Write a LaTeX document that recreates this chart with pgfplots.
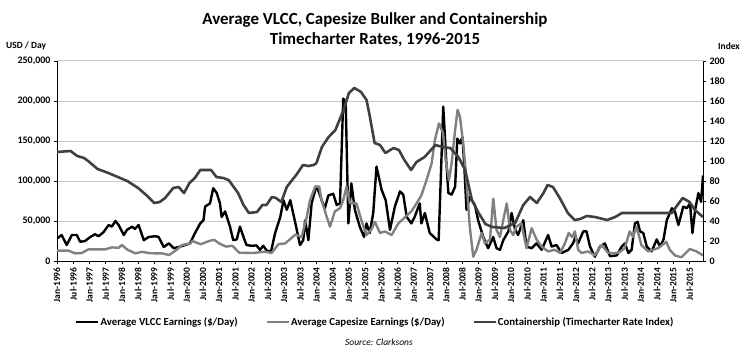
\documentclass[border=0pt]{standalone}
\usepackage{fontspec}
\setmainfont{Carlito}
\usepackage{pgfplots}
\pgfplotsset{compat=1.18}
\definecolor{cape}{HTML}{808080}
\definecolor{cont}{HTML}{404040}
\definecolor{gridc}{HTML}{C8C8C8}
\begin{document}
\begin{tikzpicture}[font=\bfseries]
\path[use as bounding box] (-57bp,-89bp) rectangle (689bp,261bp);
\pgfplotsset{every axis/.append style={scale only axis, width=646bp, height=200bp, xmin=0, xmax=239,
  tick align=outside, major tick length=3bp,
  axis line style={black, line width=0.8bp},
  tick style={black, line width=0.6bp},
  /pgf/number format/assume math mode=true,
  tick label style={font=\bfseries\fontsize{10}{12}\selectfont}}}
\begin{axis}[
  axis y line*=left, axis x line*=bottom,
  ymin=0, ymax=250000, ytick={0,50000,100000,150000,200000,250000},
  scaled y ticks=false,
  /pgf/number format/fixed, /pgf/number format/1000 sep={,},
  ymajorgrids, grid style={gridc, line width=1bp},
  xtick={0,6,...,234},
  xticklabels={Jan-1996,Jul-1996,Jan-1997,Jul-1997,Jan-1998,Jul-1998,Jan-1999,Jul-1999,Jan-2000,Jul-2000,Jan-2001,Jul-2001,Jan-2002,Jul-2002,Jan-2003,Jul-2003,Jan-2004,Jul-2004,Jan-2005,Jul-2005,Jan-2006,Jul-2006,Jan-2007,Jul-2007,Jan-2008,Jul-2008,Jan-2009,Jul-2009,Jan-2010,Jul-2010,Jan-2011,Jul-2011,Jan-2012,Jul-2012,Jan-2013,Jul-2013,Jan-2014,Jul-2014,Jan-2015,Jul-2015},
  xticklabel style={rotate=90, anchor=east, font=\bfseries\fontsize{9.5}{10}\selectfont},
  legend columns=3,
  legend style={at={(0.492,-0.305)}, anchor=center, draw=none, fill=none,
    font=\bfseries\fontsize{10.8}{13}\selectfont, inner sep=0pt,
    nodes={inner sep=1pt},
    /tikz/every even column/.append style={column sep=27bp}},
  legend image code/.code={\draw[#1] (0bp,0bp) -- (22bp,0bp);},
  every axis plot/.append style={line width=2.4bp, line join=round},
]
\addplot[black] coordinates {(0,28000)(1.7,32500)(3.6,20000)(5.5,32500)(7.3,32500)(8.6,24000)(10.4,25000)(12.3,30000)(14.1,33500)(15.4,31000)(17.2,36000)(19.1,45000)(20.3,43000)(21.6,50000)(22.8,45000)(24.7,32500)(25.9,39000)(27.8,43000)(28.8,40000)(30.2,45000)(32.1,26000)(33.9,30000)(36.4,31000)(37.6,30000)(39.5,17500)(41.4,22000)(43.2,16000)(45.1,17500)(47.4,20000)(49.2,22000)(51,34600)(53,47000)(54.2,51000)(54.8,68000)(56.6,72000)(57.8,91000)(59.1,85000)(60.3,72000)(60.9,55000)(62.2,62000)(64,43000)(65.2,26000)(66.5,27000)(67.7,43000)(69,30000)(70.1,20000)(72,19000)(73.8,19500)(75.1,14000)(76.3,19000)(77.6,13000)(79.2,12000)(80.7,35000)(82.6,55000)(83.8,76000)(85,64000)(86.3,76000)(88.2,47000)(89.9,20000)(91.1,26000)(91.8,51000)(93,26000)(94.2,72000)(95.9,93000)(96.6,89000)(97.9,76000)(99.1,66000)(100.4,82000)(102.2,84000)(103.5,70000)(104.7,72000)(105.9,203000)(106.8,199000)(107.8,47000)(108.9,97000)(110.2,64000)(112,43000)(113.6,30000)(114.5,47000)(115.7,35000)(117,60000)(118.2,118000)(120.1,89000)(121.6,76000)(123.2,39000)(125,68000)(126.9,87000)(128.1,83000)(129.4,55000)(131.1,47000)(132.3,55000)(134.2,72000)(134.8,47000)(136.1,60000)(137.9,35000)(140.4,27000)(141.2,26000)(142.9,193000)(144,126000)(144.8,85000)(146,83000)(147.3,93000)(148.1,153000)(149.1,147000)(150,155000)(150.7,118000)(151.5,64000)(152.7,80000)(154.6,70000)(155.8,51000)(157.7,30000)(159.5,16000)(161.4,30000)(162.6,16000)(163.9,14000)(165.1,26000)(167,37000)(168.2,60000)(169.5,39000)(170.6,32500)(172.5,51000)(173.7,18000)(175.6,16000)(177.4,22000)(179.3,14000)(181.7,32500)(183,18000)(184.8,20000)(186.7,10000)(189.2,14000)(190.9,22000)(191.8,30000)(192.8,22000)(194.7,37000)(195.9,37000)(197.2,18000)(199,5400)(200.9,18000)(202.7,22000)(204.6,6000)(207.1,7000)(208.9,18000)(210.1,22000)(211.4,10000)(212.6,14000)(213.8,47000)(214.8,49000)(215.7,37000)(216.9,35000)(218.2,18000)(220,12000)(221.9,27000)(223.1,18000)(224.4,27000)(225.6,51000)(227.5,66000)(228.6,62000)(229.9,45000)(231.7,68000)(233,66000)(234.2,72000)(235.1,35000)(236.1,64000)(237.3,85000)(238.3,74000)(239,107000)};
\addlegendentry{Average VLCC Earnings (\$/Day)}
\addplot[cape] coordinates {(0,13000)(4.2,13000)(6.7,9500)(9.2,10000)(11.6,14500)(17.8,14500)(20.3,17000)(22.8,16500)(24,20000)(25.9,14500)(29,9500)(31.5,11500)(33.9,10000)(36.4,9500)(38.9,9500)(41.4,7500)(43.9,13000)(46.3,20000)(49.4,22000)(50,25000)(53.2,21000)(56.3,25000)(58.1,26500)(60,22000)(62.5,18000)(64.9,19000)(67.4,10400)(72.4,10000)(77,11700)(79.4,10000)(81.9,21000)(84.4,22000)(88.2,33000)(90.5,30000)(92.4,55000)(93.6,76000)(95.5,93000)(97,93000)(97.9,76000)(99.8,55000)(101,43000)(102.8,62000)(104.7,66000)(105.9,76000)(107.1,93000)(108.4,72000)(110.8,72000)(112.6,51000)(114.5,32500)(116.4,40000)(117.6,49000)(119.5,35000)(121.3,37000)(123.8,32500)(126.3,47000)(128.8,55000)(131.1,62000)(133,72000)(134.8,82000)(136.7,101000)(138.6,122000)(139.8,151000)(141.3,172000)(142.8,160000)(143.8,126000)(145,101000)(146,122000)(147.3,164000)(148.2,189000)(149.1,180000)(150.4,143000)(151.5,101000)(152.7,43000)(154,5400)(155.2,14000)(157.1,35000)(158.3,22000)(160.2,27000)(161.4,78000)(162.6,39000)(163.9,30000)(165.1,51000)(166.4,72000)(167.6,39000)(168.8,32500)(170,43000)(171.8,47000)(173.7,16000)(175.6,41000)(177.4,27000)(179.3,18000)(181.7,12000)(184.2,14000)(186.1,10000)(187.9,22000)(189.3,35000)(190.6,30000)(191.6,37000)(192.8,14000)(194.1,10000)(196.5,12000)(199,7000)(201.5,20000)(203.9,10000)(207.6,10000)(210,16000)(211.9,37000)(213.1,30000)(214.4,43000)(216.2,20000)(218.7,12000)(222.4,16000)(225.4,24000)(226.7,14000)(228.6,7000)(231,4600)(234.1,15000)(236.6,12000)(239,7000)};
\addlegendentry{Average Capesize Earnings (\$/Day)}
\addlegendimage{cont, line width=2.4bp}
\addlegendentry{Containership (Timecharter Rate Index)}
\end{axis}
\begin{axis}[
  axis y line*=right, axis x line=none,
  ymin=0, ymax=200, ytick={0,20,...,200},
  every axis plot/.append style={line width=2.6bp, line join=round},
]
\addplot[cont] coordinates {(0,109)(5,110)(7.5,105)(10,103)(11.5,100)(15,92)(19,88)(22.5,84)(26,80)(30,73)(33,66)(36,58)(38,59)(40,63)(43,73)(45,74)(47,68)(49,78)(51,83)(53,91)(57,91)(59,84)(61.5,83)(63.5,81)(67,68)(69,56)(71,48)(74,49)(76,56)(77.5,56)(79.5,64)(81,63)(83,59)(85,74)(87,81)(88.5,86)(91,96)(93,95)(95,96)(96,98)(98,114)(100.5,124)(103,131)(104.5,141)(106,151)(108,168)(110,173)(112.5,169)(114.5,161)(115.5,148)(117.5,118)(119.5,116)(121.5,108)(124.5,113)(126.5,111)(128.5,101)(131,91)(133,99)(136,104)(140,116)(142.5,114)(145.5,113)(148.5,104)(151,91)(153.5,61)(156,48)(158.5,37)(161,34)(165.5,33)(169.5,38)(172.5,56)(175,64)(177.5,58)(180,68)(181.5,76)(183.5,74)(186,63)(189,48)(191.5,41)(193.5,42)(196,45)(199,44)(203.5,41)(206.5,44)(209,48)(211.5,48)(218.5,48)(227.5,48)(229,54)(231.5,63)(234,59)(236,51)(239,44)};
\end{axis}
\node[align=center, font=\bfseries\fontsize{17}{20}\selectfont] at (318bp,231bp) {Average VLCC, Capesize Bulker and Containership\\Timecharter Rates, 1996-2015};
\node[anchor=west, font=\bfseries\fontsize{9.5}{11}\selectfont, inner sep=0pt] at (-51bp,215bp) {USD / Day};
\node[anchor=east, font=\bfseries\fontsize{9.5}{11}\selectfont, inner sep=0pt] at (683bp,215bp) {Index};
\node[anchor=west, font=\mdseries\itshape\fontsize{9.5}{11}\selectfont, inner sep=0pt] at (288bp,-81bp) {Source: Clarksons};
\end{tikzpicture}
\end{document}
